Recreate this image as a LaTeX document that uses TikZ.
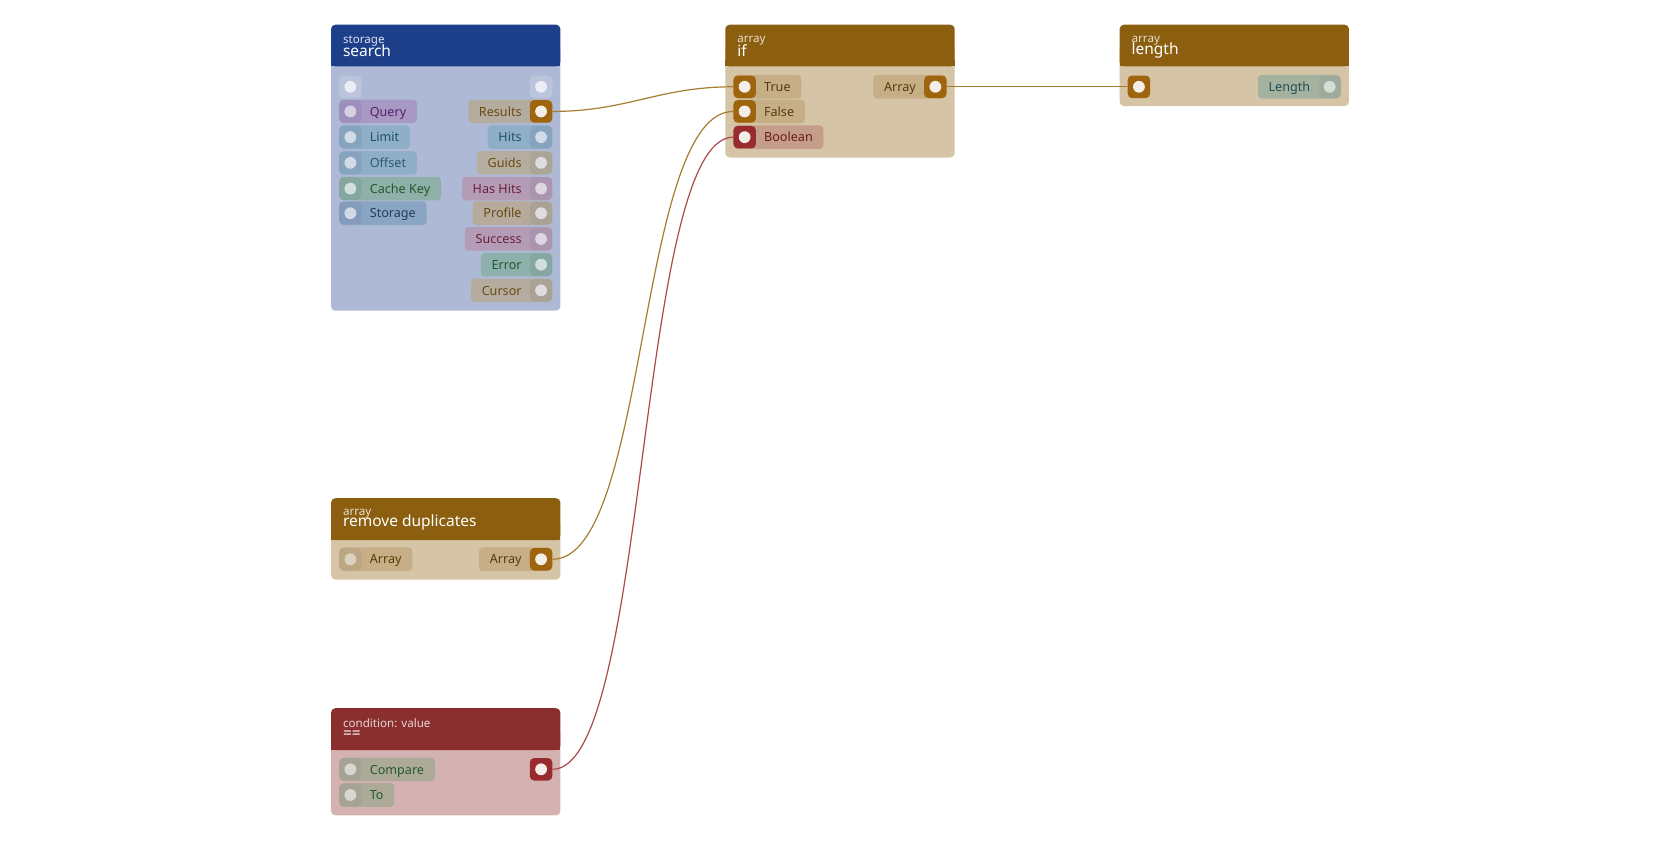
\documentclass[tikz,border=0pt]{standalone}
\usepackage{fontspec}
\setmainfont{Noto Sans}
\begin{document}
\definecolor{hblue}{HTML}{1D3F8A}\definecolor{bblue}{HTML}{AEBAD5}
\definecolor{harr}{HTML}{8B5E10}\definecolor{barr}{HTML}{D5C4A5}
\definecolor{hcond}{HTML}{8A2E2E}\definecolor{bcond}{HTML}{D5B2B2}
\definecolor{porange}{HTML}{9E640E}\definecolor{pred}{HTML}{992A2E}
\definecolor{dotc}{HTML}{F3EEE8}
\definecolor{edgeA}{HTML}{A87C30}\definecolor{edgeB}{HTML}{A84A4A}
\begin{tikzpicture}[x=1.0714pt,y=-1.0714pt,
  pill/.style={fill=#1,rounded corners=3.7pt,minimum height=23.6pt,inner sep=0pt,text height=10pt,text depth=0.6pt,font=\fontsize{12.6}{12.6}\selectfont},
  sq/.style={fill=#1,rounded corners=4.3pt,minimum width=22.5pt,minimum height=22.5pt,inner sep=0pt},
  dot/.style={fill=#1,circle,minimum size=11.8pt,inner sep=0pt},
  sub/.style={anchor=west,font=\fontsize{11.6}{11.6}\selectfont,inner sep=0pt},
  ttl/.style={anchor=west,text=white,font=\fontsize{15.5}{15.5}\selectfont,inner sep=0pt},
  wire/.style={draw=#1,line width=1.2pt}]
\useasboundingbox (0,0) rectangle (1568,784);
\newcommand\setpc[4]{\definecolor{cpill}{HTML}{#1}\definecolor{ctext}{HTML}{#2}\definecolor{csq}{HTML}{#3}\definecolor{cdot}{HTML}{#4}}
\newcommand\lport[8]{\setpc{#5}{#6}{#7}{#8}%
  \node[pill=cpill,anchor=west,text=ctext] at (#2-10,#3) {\hspace*{30pt}#4\hspace*{10.7pt}};
  \node[sq=csq] (#1) at (#2,#3) {};
  \node[dot=cdot] at (#2,#3) {};}
\newcommand\rport[8]{\setpc{#5}{#6}{#7}{#8}%
  \node[pill=cpill,anchor=east,text=ctext] at (#2+10,#3) {\hspace*{10.7pt}#4\hspace*{30pt}};
  \node[sq=csq] (#1) at (#2,#3) {};
  \node[dot=cdot] at (#2,#3) {};}
\newcommand\nodebox[7]{%
  \fill[#7,rounded corners=4.3pt] (#2,#3+20) rectangle (#2+214,#5);
  \fill[#6,rounded corners=4.3pt] (#2,#3) rectangle (#2+214,#4);
  \fill[#6] (#2,#4-6) rectangle (#2+214,#4);
  \coordinate (#1) at (#2,#3);}
% search
\nodebox{search}{309}{23}{62}{290}{hblue}{bblue}
\node[sub,text=white!85!hblue] at (320,38) {storage};
\node[ttl] at (320,47) {search};
\node[sq=white!15!bblue] (sin) at (327,81) {};\node[dot=white!75!bblue] at (327,81) {};
\node[sq=white!15!bblue] (sout) at (505,81) {};\node[dot=white!75!bblue] at (505,81) {};
\lport{q}{327}{104}{Query}{A898C4}{5A1F6A}{9D8EBB}{D2D2E4}
\lport{l}{327}{128}{Limit}{8FAEC8}{1E5066}{86A4BE}{D2DCE6}
\lport{o}{327}{152}{Offset}{8FAEC8}{2A5C70}{86A4BE}{D2DCE6}
\lport{c}{327}{176}{Cache Key}{8EB0A8}{1F5A2E}{86A6A0}{D2DEDE}
\lport{st}{327}{199}{Storage}{8AA4C4}{1E3E5E}{839CBB}{D2DAE6}
\rport{res}{505}{104}{Results}{B5ACA0}{6A4A10}{9E640E}{F3EEE8}
\rport{hits}{505}{128}{Hits}{8FAEC8}{1E5066}{86A4BE}{D2DCE6}
\rport{g}{505}{152}{Guids}{B5AEA0}{6A4A10}{ABA598}{DEDCDC}
\rport{hh}{505}{176}{Has Hits}{B49CB6}{6A1F3A}{AA94AE}{DDD6E2}
\rport{p}{505}{199}{Profile}{B5AA9C}{6A4A10}{ABA296}{DEDCDC}
\rport{su}{505}{223}{Success}{B49CB6}{6A1F3A}{AA94AE}{DDD6E2}
\rport{e}{505}{247}{Error}{8EB0AC}{1F5A2E}{86A6A2}{D2DEDE}
\rport{cu}{505}{271}{Cursor}{B5ACA0}{6A4A10}{ABA296}{DEDCDC}
% if
\nodebox{ifn}{677}{23}{62}{147}{harr}{barr}
\node[sub,text=white!80!harr] at (688,38) {array};
\node[ttl] at (688,47) {if};
\lport{t}{695}{81}{True}{C6AE86}{5A3A08}{9E640E}{F3EEE8}
\lport{f}{695}{104}{False}{C6AE86}{5A3A08}{9E640E}{F3EEE8}
\lport{b}{695}{128}{Boolean}{C49E8A}{6A1A1A}{992A2E}{F3EEE8}
\rport{ifout}{873}{81}{Array}{C6AE86}{5A3A08}{9E640E}{F3EEE8}
% length
\nodebox{len}{1045}{23}{62}{99}{harr}{barr}
\node[sub,text=white!80!harr] at (1056,38) {array};
\node[ttl] at (1056,47) {length};
\node[sq=porange] (lin) at (1063,81) {};\node[dot=dotc] at (1063,81) {};
\rport{lout}{1241}{81}{Length}{A6B2A0}{1E5056}{9EAA9A}{D6DCD6}
% remove duplicates
\nodebox{rd}{309}{465}{504}{541}{harr}{barr}
\node[sub,text=white!80!harr] at (320,479) {array};
\node[ttl] at (320,488) {remove duplicates};
\lport{rdin}{327}{522}{Array}{C6AE86}{5A3A08}{BCA684}{DCD2C0}
\rport{rdout}{505}{522}{Array}{C6AE86}{5A3A08}{9E640E}{F3EEE8}
% ==
\nodebox{eq}{309}{661}{700}{761}{hcond}{bcond}
\node[sub,text=white!80!hcond] at (320,675) {condition: value};
\node[ttl] at (320,686) {==};
\lport{cmp}{327}{718}{Compare}{AEAA9A}{1F5A2E}{A6A294}{D8D6D0}
\lport{to}{327}{742}{To}{AEAA9A}{1F5A2E}{A6A294}{D8D6D0}
\node[sq=pred] (eqout) at (505,718) {};\node[dot=dotc] at (505,718) {};
% wires
\draw[wire=edgeA] (res.east) .. controls +(70,0) and +(-70,0) .. (t.west);
\draw[wire=edgeA] (rdout.east) .. controls +(90,0) and +(-90,0) .. (f.west);
\draw[wire=edgeB] (eqout.east) .. controls +(90,0) and +(-90,0) .. (b.west);
\draw[wire=edgeA] (ifout.east) -- (lin.west);
\end{tikzpicture}
\end{document}
